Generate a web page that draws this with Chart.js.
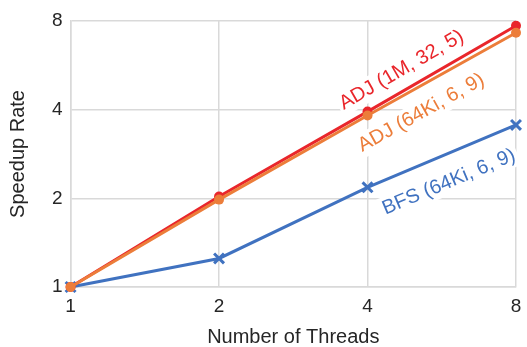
<!DOCTYPE html>
<html>
<head>
<meta charset="utf-8">
<script src="https://cdn.jsdelivr.net/npm/chart.js@4"></script>
<style>
html, body { margin: 0; padding: 0; background: #fff; }
#wrap { width: 527px; height: 347px; }
</style>
</head>
<body>
<div id="wrap"><canvas id="speedup"></canvas></div>
<script>
// values
const threads = [1, 2, 4, 8];
const adj1M = [1, 2.03, 3.94, 7.71];
const adj64Ki = [1, 1.98, 3.82, 7.30];
const bfs64Ki = [1, 1.25, 2.18, 3.55];
const tickValues = [1, 2, 4, 8];
const seriesNames = ['ADJ (1M, 32, 5)', 'ADJ (64Ki, 6, 9)', 'BFS (64Ki, 6, 9)'];

const FONT = '"Liberation Sans", Arial, sans-serif';
const TEXT = '#262626';
const GRID = '#d9d9d9';

function toPoints(ys) {
  return threads.map((t, i) => ({ x: t, y: ys[i] }));
}

// label written along each line, centred at a spot given in data units
const labelSpots = [[4.69, 5.45], [5.14, 3.9], [5.85, 2.27]];

const lineLabels = {
  id: 'lineLabels',
  beforeDatasetsDraw(chart) {
    const ctx = chart.ctx;
    const xs = chart.scales.x, ys = chart.scales.y;
    chart.data.datasets.forEach((ds, i) => {
      const p = ds.data;
      const dx = xs.getPixelForValue(p[3].x) - xs.getPixelForValue(p[2].x);
      const dy = ys.getPixelForValue(p[3].y) - ys.getPixelForValue(p[2].y);
      const angle = Math.atan2(dy, dx);
      const cx = xs.getPixelForValue(labelSpots[i][0]);
      const cy = ys.getPixelForValue(labelSpots[i][1]);
      ctx.save();
      ctx.translate(cx, cy);
      ctx.rotate(angle);
      ctx.font = '20px ' + FONT;
      const w = ctx.measureText(ds.label).width;
      ctx.fillStyle = '#fff';
      ctx.fillRect(-w / 2 - 3, -12, w + 6, 24);
      ctx.fillStyle = ds.borderColor;
      ctx.textAlign = 'center';
      ctx.textBaseline = 'middle';
      ctx.fillText(ds.label, 0, 0);
      ctx.restore();
    });
  }
};

const ctx = document.getElementById('speedup').getContext('2d');

new Chart(ctx, {
  type: 'line',
  data: {
    datasets: [
      {
        label: seriesNames[0],
        data: toPoints(adj1M),
        borderColor: '#e9262b',
        backgroundColor: '#e9262b',
        borderWidth: 3,
        pointStyle: 'circle',
        pointRadius: 5,
        pointBorderWidth: 0,
        order: 2,
        clip: false
      },
      {
        label: seriesNames[1],
        data: toPoints(adj64Ki),
        borderColor: '#ec7d3a',
        backgroundColor: '#ec7d3a',
        borderWidth: 3,
        pointStyle: 'circle',
        pointRadius: 5,
        pointBorderWidth: 0,
        order: 1,
        clip: false
      },
      {
        label: seriesNames[2],
        data: toPoints(bfs64Ki),
        borderColor: '#4072c0',
        backgroundColor: '#4072c0',
        borderWidth: 3,
        pointStyle: 'crossRot',
        pointRadius: 7,
        pointBorderWidth: 3,
        order: 3,
        clip: false
      }
    ]
  },
  options: {
    responsive: true,
    maintainAspectRatio: false,
    animation: false,
    layout: { padding: { left: 2, right: 11, top: 21, bottom: 0 } },
    scales: {
      x: {
        type: 'logarithmic',
        min: 1,
        max: 8,
        afterBuildTicks: s => { s.ticks = tickValues.map(v => ({ value: v })); },
        // don't let the last tick label push the plot edge inwards
        afterFit: s => { s.paddingRight = 0; s.paddingLeft = 0; },
        ticks: {
          callback: v => String(v),
          font: { family: FONT, size: 19, lineHeight: 1 },
          color: TEXT,
          padding: 10,
          maxRotation: 0
        },
        grid: { color: GRID, lineWidth: 1.5, drawTicks: false },
        border: { color: GRID, width: 1.5 },
        title: {
          display: true,
          text: 'Number of Threads',
          font: { family: FONT, size: 20, lineHeight: 1 },
          color: TEXT,
          padding: { top: 1, bottom: 0 }
        }
      },
      y: {
        type: 'logarithmic',
        min: 1,
        max: 8,
        afterBuildTicks: s => { s.ticks = tickValues.map(v => ({ value: v })); },
        ticks: {
          callback: v => String(v),
          font: { family: FONT, size: 19, lineHeight: 1 },
          color: TEXT,
          padding: 8
        },
        grid: { color: GRID, lineWidth: 1.5, drawTicks: false },
        border: { color: GRID, width: 1.5 },
        title: {
          display: true,
          text: 'Speedup Rate',
          font: { family: FONT, size: 20, lineHeight: 1 },
          color: TEXT,
          padding: { top: 6, bottom: 16 }
        }
      }
    },
    plugins: {
      legend: { display: false },
      tooltip: { enabled: false }
    }
  },
  plugins: [lineLabels]
});
</script>
</body>
</html>
